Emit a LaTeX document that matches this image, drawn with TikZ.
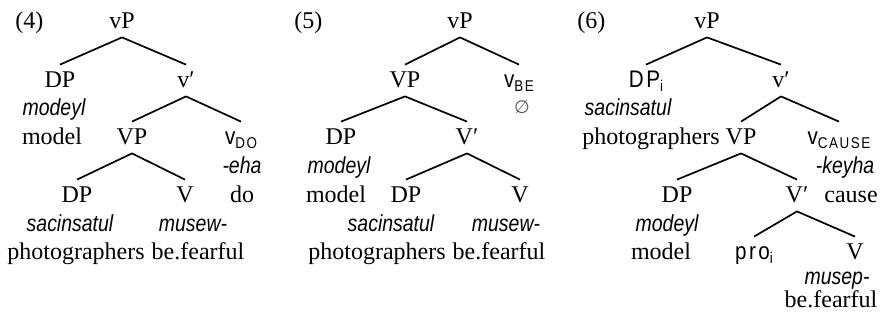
\documentclass[tikz,border=0pt]{standalone}
\usepackage{fontspec}
\setmainfont{Liberation Serif}
\newfontfamily\narrowsans[FakeStretch=0.84]{Liberation Sans}
\newfontfamily\spacedsans[FakeStretch=0.86,LetterSpace=10]{Liberation Sans}
\newfontfamily\symbfont{DejaVu Sans}
\newcommand{\lbl}[1]{{\spacedsans #1}}
\newcommand{\lsub}[1]{\raisebox{-2.2pt}{\fontsize{7.8}{8}\selectfont\spacedsans #1}}

\begin{document}
\begin{tikzpicture}[x=0.5pt, y=-0.5pt,
	every node/.style={font=\fontsize{12}{14}\selectfont, inner sep=0pt, anchor=base},
	cat/.style={text height=8pt, text depth=1.5pt, inner ysep=3pt},
	gl/.style={font=\fontsize{11.6}{13}\selectfont\narrowsans\itshape},
	branch/.style={line width=0.85pt}]
	\useasboundingbox (0,0) rectangle (881,321);
	% tree (4)
	\node[anchor=base west] (a-num) at (15,28) {(4)};
	\node[cat] (a-vP) at (122,28) {vP};
	\node[cat] (a-DP) at (60,87) {DP};
	\node[gl] (a-DPg) at (54,115) {modeyl};
	\node (a-DPt) at (52,144) {model};
	\node[cat] (a-v1) at (186,87) {v′};
	\node[cat] (a-VP) at (132,144) {VP};
	\node[cat] (a-vDO) at (241,144) {\lbl{v}\lsub{DO}};
	\node[gl] (a-vDOg) at (242,173) {-eha};
	\node (a-vDOt) at (242,202) {do};
	\node[cat] (a-DP2) at (77,202) {DP};
	\node[gl] (a-DP2g) at (70,231) {sacinsatul};
	\node (a-DP2t) at (76,259) {photographers};
	\node[cat] (a-V) at (185,202) {V};
	\node[gl] (a-Vg) at (193,231) {musew-};
	\node (a-Vt) at (198,259) {be.fearful};
	\draw[branch] (a-vP.south) -- (a-DP.north);
	\draw[branch] (a-vP.south) -- (a-v1.north);
	\draw[branch] (a-v1.south) -- (a-VP.north);
	\draw[branch] (a-v1.south) -- (a-vDO.north);
	\draw[branch] (a-VP.south) -- (a-DP2.north);
	\draw[branch] (a-VP.south) -- (a-V.north);
	% tree (5)
	\node[anchor=base west] (b-num) at (294,28) {(5)};
	\node[cat] (b-vP) at (460,28) {vP};
	\node[cat] (b-VP) at (405,87) {VP};
	\node[cat] (b-vBE) at (519,87) {\lbl{v}\lsub{BE}};
	\node[font=\fontsize{9}{10}\selectfont\symbfont, text=black!65] (b-vBEg) at (522,113) {∅};
	\node[cat] (b-DP) at (341,144) {DP};
	\node[gl] (b-DPg) at (339,173) {modeyl};
	\node (b-DPt) at (336,202) {model};
	\node[cat] (b-V1) at (467,144) {V′};
	\node[cat] (b-DP2) at (406,202) {DP};
	\node[gl] (b-DP2g) at (391,231) {sacinsatul};
	\node (b-DP2t) at (377,259) {photographers};
	\node[cat] (b-V) at (520,202) {V};
	\node[gl] (b-Vg) at (506,231) {musew-};
	\node (b-Vt) at (499,259) {be.fearful};
	\draw[branch] (b-vP.south) -- (b-VP.north);
	\draw[branch] (b-vP.south) -- (b-vBE.north);
	\draw[branch] (b-VP.south) -- (b-DP.north);
	\draw[branch] (b-VP.south) -- (b-V1.north);
	\draw[branch] (b-V1.south) -- (b-DP2.north);
	\draw[branch] (b-V1.south) -- (b-V.north);
	% tree (6)
	\node[anchor=base west] (c-num) at (577,28) {(6)};
	\node[cat] (c-vP) at (707,28) {vP};
	\node[cat] (c-DPi) at (646,87) {\lbl{DP}\lsub{i}};
	\node[gl] (c-DPig) at (628,115) {sacinsatul};
	\node (c-DPit) at (651,144) {photographers};
	\node[cat] (c-v1) at (781,87) {v′};
	\node[cat] (c-VP) at (741,144) {VP};
	\node[cat] (c-vCAUSE) at (839,144) {\lbl{v}\lsub{CAUSE}};
	\node[gl] (c-vCAUSEg) at (845,173) {-keyha};
	\node (c-vCAUSEt) at (851,202) {cause};
	\node[cat] (c-DP) at (677,202) {DP};
	\node[gl] (c-DPg) at (667,231) {modeyl};
	\node (c-DPt) at (661,259) {model};
	\node[cat] (c-V1) at (797,202) {V′};
	\node[cat] (c-pro) at (754,259) {\lbl{pro}\lsub{i}};
	\node[cat] (c-V) at (855,259) {V};
	\node[gl] (c-Vg) at (837,284) {musep-};
	\node (c-Vt) at (831,307) {be.fearful};
	\draw[branch] (c-vP.south) -- (c-DPi.north);
	\draw[branch] (c-vP.south) -- (c-v1.north);
	\draw[branch] (c-v1.south) -- (c-VP.north);
	\draw[branch] (c-v1.south) -- (c-vCAUSE.north);
	\draw[branch] (c-VP.south) -- (c-DP.north);
	\draw[branch] (c-VP.south) -- (c-V1.north);
	\draw[branch] (c-V1.south) -- (c-pro.north);
	\draw[branch] (c-V1.south) -- (c-V.north);
\end{tikzpicture}
\end{document}
